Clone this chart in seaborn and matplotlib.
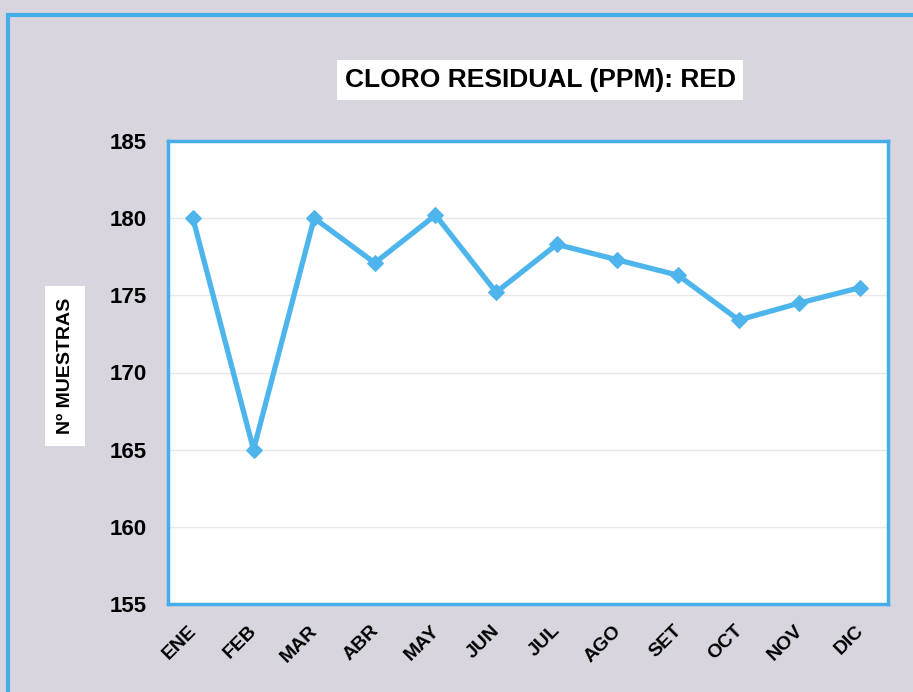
import matplotlib
matplotlib.use("Agg")
import matplotlib.pyplot as plt
import matplotlib.transforms as mtransforms
from matplotlib.patches import Rectangle
import seaborn as sns
import pandas as pd

meses = ['ENE', 'FEB', 'MAR', 'ABR', 'MAY', 'JUN', 'JUL', 'AGO', 'SET', 'OCT', 'NOV', 'DIC']
muestras = [180.0, 165.0, 180.0, 177.1, 180.2, 175.2, 178.3, 177.3, 176.3, 173.4, 174.5, 175.5]
y_ticks = [155, 160, 165, 170, 175, 180, 185]

azul = '#4db5ec'
borde = '#45aee8'
fondo = '#d8d5df'

sns.set_style('white')
plt.rcParams['font.family'] = ['Liberation Sans', 'DejaVu Sans']
plt.rcParams['text.color'] = 'black'
plt.rcParams['xtick.color'] = 'black'
plt.rcParams['ytick.color'] = 'black'

df = pd.DataFrame({'mes': meses, 'n': muestras})

fig = plt.figure(figsize=(9.13, 6.92), dpi=100)
fig.patch.set_facecolor(fondo)
# outer frame of the scanned chart
fig.patches.append(Rectangle((8 / 913, -0.05), 1.0, 1 - 15 / 692 + 0.05, transform=fig.transFigure,
                             fill=False, edgecolor=borde, linewidth=3))

ax = fig.add_axes([168 / 913, 1 - 604 / 692, 720 / 913, 463 / 692])
ax.set_facecolor('white')

sns.lineplot(data=df, x='mes', y='n', sort=False, ax=ax, color=azul, linewidth=3.8,
             marker='D', markersize=8, markeredgecolor=azul)

ax.set_xlim(-0.41, 11.46)
ax.set_ylim(155, 185)
ax.set_yticks(y_ticks)
ax.yaxis.grid(True, color='#e8e8e8', linewidth=1)
ax.set_axisbelow(True)
for s in ax.spines.values():
    s.set_color(borde)
    s.set_linewidth(2.5)

ax.tick_params(axis='y', length=0, pad=15, labelsize=16, labelcolor='black')
ax.tick_params(axis='x', length=0, pad=13, labelsize=14, labelcolor='black')
for lab in ax.get_yticklabels():
    lab.set_fontweight('bold')
offset = mtransforms.ScaledTranslation(7 / 100, 0, fig.dpi_scale_trans)
for lab in ax.get_xticklabels():
    lab.set_rotation(45)
    lab.set_ha('right')
    lab.set_fontweight('bold')
    lab.set_transform(lab.get_transform() + offset)

ax.set_xlabel('')
ax.set_ylabel('')

fig.text(540 / 913, 1 - 80 / 692, 'CLORO RESIDUAL (PPM): RED', ha='center', va='center',
         fontsize=19, fontweight='bold', color='black',
         bbox=dict(facecolor='white', edgecolor='none', boxstyle='square,pad=0.3'))
fig.text(65 / 913, 1 - 366 / 692, 'Nº MUESTRAS', ha='center', va='center', rotation=90,
         fontsize=14, fontweight='bold', color='black',
         bbox=dict(facecolor='white', edgecolor='none', boxstyle='square,pad=0.6'))

fig.savefig('out.png', dpi=100, facecolor=fig.get_facecolor())
